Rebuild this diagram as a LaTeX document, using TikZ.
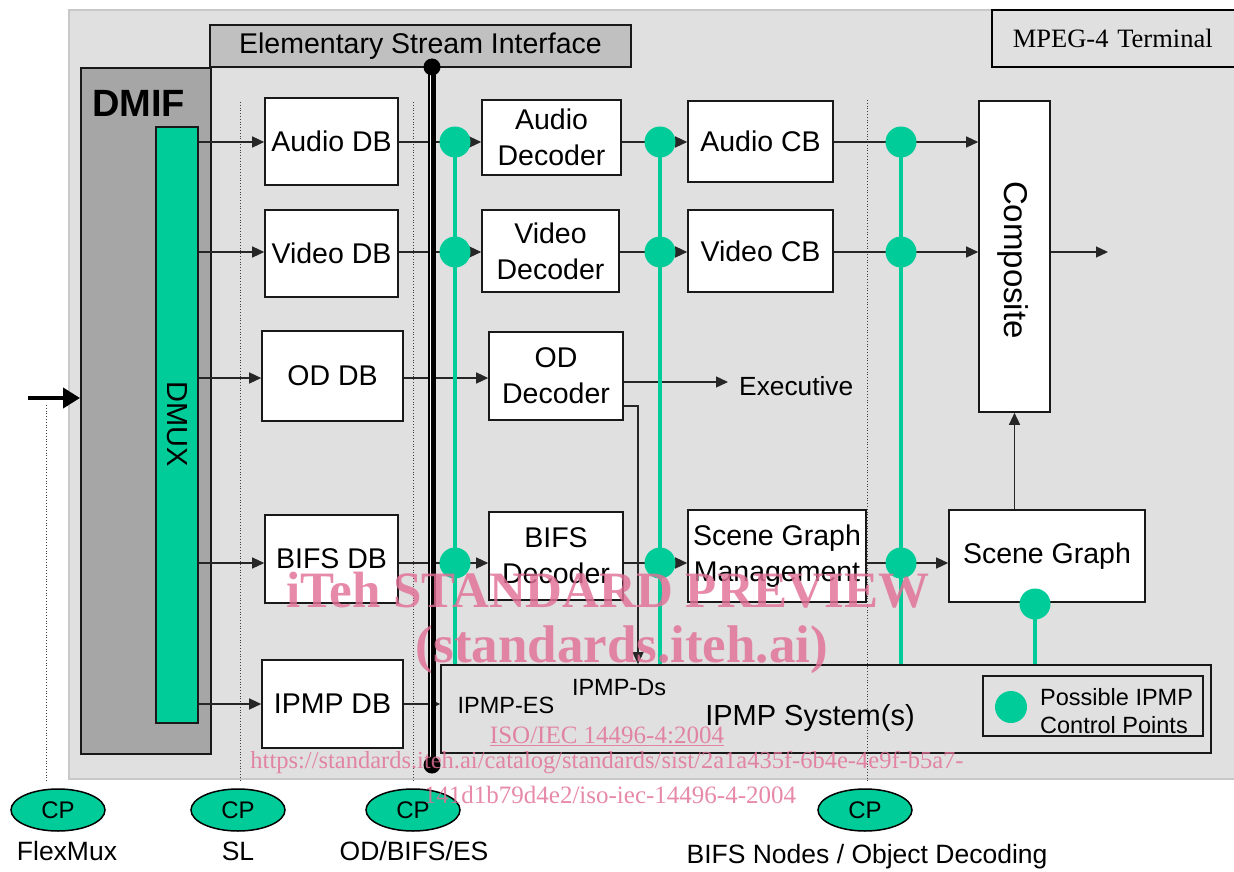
\documentclass[tikz,border=0pt]{standalone}
\usepackage{fontspec}
\setmainfont{Liberation Sans}
\newfontfamily\tmsfont{Liberation Serif}
\usetikzlibrary{arrows.meta,shapes.geometric}
\definecolor{cpgreen}{RGB}{0,204,153}
\definecolor{bggray}{RGB}{224,224,224}
\definecolor{bgedge}{RGB}{200,200,200}
\definecolor{dmifgray}{RGB}{166,166,166}
\definecolor{esigray}{RGB}{192,192,192}
\definecolor{wmpink}{RGB}{226,112,150}
\newcommand{\fsz}[2]{\fontsize{#1}{#2}\selectfont}
\begin{document}
\begin{tikzpicture}[x=1pt,y=-1pt,
  box/.style={draw=black!90, line width=1.6pt, fill=white, inner sep=0pt, align=center, font=\fsz{28.5}{36}},
  arr/.style={draw=black!85, line width=1.3pt, -{Triangle[length=12pt,width=11pt]}},
  gline/.style={draw=cpgreen, line width=4pt},
  gdot/.style={circle, fill=cpgreen, minimum size=31pt, inner sep=0pt},
  cpell/.style={ellipse, draw=black, line width=1.5pt, fill=cpgreen, minimum width=94pt, minimum height=42pt, inner sep=0pt, font=\fsz{24}{28}},
  guide/.style={draw=black!75, line width=0.8pt, dotted},
  botlabel/.style={inner sep=0pt, font=\fsz{26.5}{30}},
  wm/.style={text=wmpink, text opacity=0.82, inner sep=0pt},
]
\useasboundingbox (0,0) rectangle (1234,872);
\fill[white] (0,0) rectangle (1234,872);
% terminal background
\draw[bgedge, line width=2pt, fill=bggray] (69,10) rectangle (1250,779);
\node[draw=black, line width=1.6pt, minimum height=57pt, text width=222pt, inner xsep=21pt, inner ysep=0pt, align=left, anchor=west, font=\tmsfont\fsz{26.5}{30}] (term) at (991,38.5) {MPEG-4 Terminal};

% dotted guides
\draw[guide] (46,405) -- (46,781);
\draw[guide] (240,102) -- (240,781);
\draw[guide] (413,102) -- (413,781);
\draw[guide] (867,100) -- (867,781);

% ESI and DMIF
\node[draw=black!90, line width=1.6pt, fill=esigray, minimum width=421pt, minimum height=42pt, inner sep=0pt, font=\fsz{28.5}{36}] (esi) at (420.5,46) {Elementary Stream Interface};
\node[draw=black!90, line width=1.6pt, fill=dmifgray, minimum width=130pt, minimum height=686pt, inner sep=0pt, anchor=north west] (dmif) at (80,67) {};
\node[anchor=west, inner sep=0pt, font=\bfseries\fsz{38}{44}] (dmiflabel) at (92,103) {DMIF};
\node[draw=black!90, line width=1.5pt, fill=cpgreen, minimum width=42pt, minimum height=596pt, inner sep=0pt] (dmux) at (177,425) {};
\node[rotate=-90, inner sep=0pt, font=\fsz{29}{32}] (dmuxlabel) at (177,424) {DMUX};

% input arrow
\coordinate (inp) at (28,398);
\draw[line width=4pt, -{Triangle[length=17pt,width=20pt]}] (inp) -- (inp -| dmif.west);

% boxes
\node[box, minimum width=133pt, minimum height=87pt] (adb) at (331.5,141.5) {Audio DB};
\node[box, minimum width=133pt, minimum height=87pt] (vdb) at (331.5,253.5) {Video DB};
\node[box, minimum width=141pt, minimum height=90pt] (oddb) at (332.5,376) {OD DB};
\node[box, minimum width=133pt, minimum height=88pt] (bdb) at (331.5,559) {BIFS DB};
\node[box, minimum width=141pt, minimum height=88pt] (idb) at (332.5,704) {IPMP DB};

\node[box, minimum width=139pt, minimum height=75pt] (adec) at (551.5,137.5) {Audio\\Decoder};
\node[box, minimum width=137pt, minimum height=82pt] (vdec) at (550.5,251) {Video\\Decoder};
\node[box, minimum width=134pt, minimum height=88pt] (oddec) at (556,376) {OD\\Decoder};
\node[box, minimum width=134pt, minimum height=88pt] (bdec) at (556,556) {BIFS\\Decoder};

\node[box, minimum width=145pt, minimum height=81pt] (acb) at (760.5,141.5) {Audio CB};
\node[box, minimum width=145pt, minimum height=82pt] (vcb) at (760.5,251) {Video CB};
\node[box, minimum width=178pt, minimum height=92pt] (sgm) at (777,556) {Scene Graph\\Management};

\node[box, minimum width=71pt, minimum height=311pt] (comp) at (1014.5,256.5) {};
\node[rotate=-90, inner sep=0pt, font=\fsz{33}{36}] (complabel) at (1013,260) {Composite};
\node[box, minimum width=196pt, minimum height=92pt] (sg) at (1047,556) {Scene Graph};

\node[draw=black!90, line width=1.6pt, minimum width=770pt, minimum height=88pt, inner sep=0pt] (ipmp) at (826,709) {};
\node[inner sep=0pt, font=\fsz{29}{34}] (ipmpsys) at (810,718) {IPMP System(s)};
\node[inner sep=0pt, font=\fsz{23.5}{28}] (ipmpes) at (506,705) {IPMP-ES};
\node[inner sep=0pt, font=\fsz{23.5}{28}] (ipmpds) at (619,688) {IPMP-Ds};

\node[draw=black!90, line width=1.5pt, minimum width=220pt, minimum height=60pt, inner sep=0pt] (legend) at (1093,706) {};
\node[anchor=west, align=left, inner sep=0pt, font=\fsz{23.5}{28}] (legtext) at (1040,711) {Possible IPMP\\Control Points};

\node[anchor=west, inner xsep=11pt, inner ysep=0pt, font=\fsz{26.3}{30}] (exec) at (728,386) {Executive};

% rows
\coordinate (ra) at (0,142);
\coordinate (rv) at (0,252);
\coordinate (ro) at (0,378);
\coordinate (rx) at (0,382);
\coordinate (rb) at (0,563);
\coordinate (ri) at (0,704);

% connectors
\draw[arr] (dmux.east |- ra) -- (adb.west |- ra);
\draw[arr] (adb.east |- ra) -- (adec.west |- ra);
\draw[arr] (adec.east |- ra) -- (acb.west |- ra);
\draw[arr] (acb.east |- ra) -- (comp.west |- ra);

\draw[arr] (dmux.east |- rv) -- (vdb.west |- rv);
\draw[arr] (vdb.east |- rv) -- (vdec.west |- rv);
\draw[arr] (vdec.east |- rv) -- (vcb.west |- rv);
\draw[arr] (vcb.east |- rv) -- (comp.west |- rv);

\draw[arr] (dmux.east |- ro) -- (oddb.west |- ro);
\draw[arr] (oddb.east |- ro) -- (oddec.west |- ro);
\draw[arr] (oddec.east |- rx) -- (exec.west |- rx);

\draw[arr] (dmux.east |- rb) -- (bdb.west |- rb);
\draw[arr] (bdb.east |- rb) -- (bdec.west |- rb);
\draw[arr] (bdec.east |- rb) -- (sgm.west |- rb);
\draw[arr] (sgm.east |- rb) -- (sg.west |- rb);

\draw[arr] (dmux.east |- ri) -- (idb.west |- ri);
\draw[arr] (idb.east |- ri) -- (ipmp.west |- ri);

\coordinate (odbend) at (638,406);
\draw[arr] (oddec.east |- odbend) -- (odbend) -- (odbend |- ipmp.north);

\coordinate (cout) at (1108,252);
\draw[arr] (comp.east |- cout) -- (cout);
\draw[arr] (sg.north -| comp.south) -- (comp.south);

% ESI bar
\coordinate (esit) at (432,67);
\coordinate (esib) at (432,765);
\draw[black, line width=7.7pt] (esit) -- (esib);
\draw[white, line width=1.3pt] ([xshift=-1.3pt]esit) -- ([xshift=-1.3pt]esib);
\node[circle, fill=black, minimum size=17pt, inner sep=0pt] (esitopdot) at (esit) {};
\node[circle, fill=black, minimum size=17pt, inner sep=0pt] (esibotdot) at (esib) {};

% control point columns
\foreach \cx/\cn in {455/c1, 660/c2, 901/c3}{
  \coordinate (\cn top) at (\cx,142);
  \draw[gline] (\cn top) -- (\cn top |- ipmp.north);
  \node[gdot] (\cn a) at (\cx,142) {};
  \node[gdot] (\cn v) at (\cx,252) {};
  \node[gdot] (\cn b) at (\cx,563) {};
}
\node[gdot] (gsg) at (1035,604) {};
\draw[gline] (gsg.center) -- (gsg.center |- ipmp.north);
\node[gdot, minimum size=32pt] (legdot) at (1011,707) {};

% bottom control points
\node[cpell] (cpfm) at (58,810) {CP};
\node[cpell] (cpsl) at (238,810) {CP};
\node[cpell] (cpod) at (413,810) {CP};
\node[cpell] (cpbn) at (865,810) {CP};
\node[botlabel] (lfm) at (67,851) {FlexMux};
\node[botlabel] (lsl) at (238,851) {SL};
\node[botlabel] (lod) at (414,851) {OD/BIFS/ES};
\node[botlabel] (lbn) at (867,857) {BIFS Nodes / Object Decoding};

% watermark
\node[wm, font=\tmsfont\bfseries\fsz{51}{56}] (wm1) at (608,590) {iTeh STANDARD PREVIEW};
\node[wm, font=\tmsfont\bfseries\fsz{53}{58}] (wm2) at (622,650) {(standards.iteh.ai)};
\node[wm, font=\tmsfont\fsz{25}{28}] (wm3) at (607,736) {\underline{ISO/IEC 14496-4:2004}};
\node[wm, font=\tmsfont\fsz{24.5}{28}] (wm4) at (607,763) {https://standards.iteh.ai/catalog/standards/sist/2a1a435f-6b4e-4e9f-b5a7-};
\node[wm, font=\tmsfont\fsz{25}{28}] (wm5) at (610,795) {141d1b79d4e2/iso-iec-14496-4-2004};
\end{tikzpicture}
\end{document}
